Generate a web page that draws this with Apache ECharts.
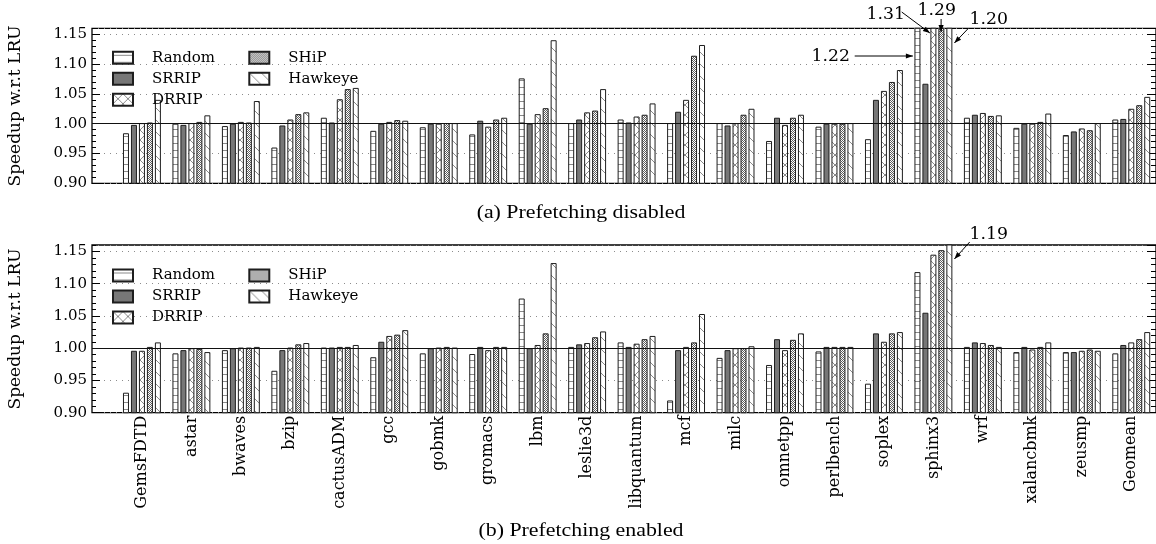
<!DOCTYPE html>
<html><head><meta charset="utf-8">
<script src="https://cdn.jsdelivr.net/npm/echarts@6/dist/echarts.min.js"></script>
<style>html,body{margin:0;padding:0;background:#fff}#c{width:1156px;height:544px}</style>
</head><body><div id="c"></div>
<script>
const categories = ['GemsFDTD','astar','bwaves','bzip','cactusADM','gcc','gobmk','gromacs','lbm','leslie3d','libquantum','mcf','milc','omnetpp','perlbench','soplex','sphinx3','wrf','xalancbmk','zeusmp','Geomean'];
const seriesNames = ['Random','SRRIP','DRRIP','SHiP','Hawkeye'];
const yTicks = ['0.90','0.95','1.00','1.05','1.10','1.15'];

// (a) Prefetching disabled
const randomA  = [0.984,1.000,0.996,0.960,1.010,0.988,0.994,0.982,1.076,1.001,1.007,1.001,1.001,0.971,0.995,0.974,1.22,1.010,0.993,0.981,1.007];
const srripA   = [0.998,0.998,1.000,0.997,1.002,1.000,1.000,1.005,1.000,1.007,1.002,1.020,0.997,1.010,1.000,1.040,1.067,1.015,1.000,0.987,1.008];
const drripA   = [1.001,1.001,1.003,1.007,1.041,1.003,1.000,0.995,1.016,1.019,1.012,1.040,1.001,0.998,1.000,1.055,1.31,1.018,1.000,0.992,1.025];
const shipA    = [1.002,1.003,1.002,1.016,1.058,1.006,1.001,1.007,1.026,1.022,1.015,1.114,1.015,1.010,1.000,1.070,1.29,1.013,1.003,0.989,1.031];
const hawkeyeA = [1.040,1.014,1.038,1.019,1.060,1.005,1.001,1.010,1.140,1.058,1.034,1.132,1.025,1.015,1.001,1.090,1.20,1.014,1.017,1.001,1.045];

// (b) Prefetching enabled
const randomB  = [0.931,0.992,0.997,0.965,1.001,0.986,0.992,0.991,1.077,1.002,1.009,0.919,0.985,0.974,0.995,0.945,1.118,1.002,0.994,0.994,0.992];
const srripB   = [0.996,0.997,1.000,0.997,1.001,1.010,1.000,1.002,1.000,1.006,1.002,0.997,0.997,1.014,1.002,1.023,1.055,1.009,1.002,0.994,1.005];
const drripB   = [0.996,1.000,1.001,1.001,1.002,1.019,1.001,0.997,1.005,1.008,1.007,1.002,1.000,0.997,1.002,1.010,1.145,1.008,0.998,0.996,1.009];
const shipB    = [1.002,0.999,1.001,1.006,1.002,1.021,1.002,1.002,1.023,1.017,1.014,1.009,1.000,1.013,1.002,1.023,1.152,1.005,1.002,0.998,1.014];
const hawkeyeB = [1.009,0.994,1.002,1.008,1.005,1.028,1.001,1.002,1.132,1.026,1.019,1.053,1.003,1.023,1.002,1.025,1.19,1.002,1.009,0.996,1.025];

const panelA = [randomA, srripA, drripA, shipA, hawkeyeA];
const panelB = [randomB, srripB, drripB, shipB, hawkeyeB];
// off-scale labels for sphinx3: [panel, seriesIndex, value]
const offScale = [[0,0,1.22],[0,2,1.31],[0,3,1.29],[0,4,1.20],[1,4,1.19]];

const SERIF = 'DejaVu Serif';
const HATCH = '#8a8a8a';
function tile(w, h, draw) {
  const c = document.createElement('canvas'); c.width = w; c.height = h;
  const g = c.getContext('2d'); g.fillStyle = '#fff'; g.fillRect(0, 0, w, h);
  draw(g); return { image: c, repeat: 'repeat' };
}
const fills = [
  tile(6, 7, g => { g.fillStyle = HATCH; g.fillRect(0, 3, 6, 1); }),
  '#777777',
  tile(10, 10, g => { g.strokeStyle = HATCH; g.lineWidth = 1; g.beginPath(); g.moveTo(0,0); g.lineTo(10,10); g.moveTo(10,0); g.lineTo(0,10); g.stroke(); }),
  tile(2, 2, g => { g.fillStyle = '#5e5e5e'; g.fillRect(0,0,1,1); g.fillRect(1,1,1,1); }),
  tile(12, 12, g => { g.strokeStyle = HATCH; g.lineWidth = 1; g.beginPath(); g.moveTo(0,0); g.lineTo(12,12); g.stroke(); })
];

const YMIN = 0.9, YMAX = 1.16;
const panels = [{ top: 28.3, height: 155 }, { top: 245, height: 167.7 }];

const grid = [], xAxis = [], yAxis = [], series = [], legend = [];
panels.forEach((p, k) => {
  grid.push({ left: 92, right: -1, top: p.top, height: p.height, show: true, borderColor: '#000', borderWidth: 1.3, backgroundColor: 'transparent' });
  grid.push({ left: 117.2, right: -4.3, top: p.top, height: p.height });
  xAxis.push({ gridIndex: 2*k, type: 'value', min: 0, max: 1, show: false });
  xAxis.push({ gridIndex: 2*k+1, type: 'category', data: categories,
    axisLine: { show: false }, axisTick: { show: false },
    axisLabel: { show: k === 1, rotate: 90, fontFamily: SERIF, fontSize: 16, color: '#000', margin: 3 } });
  const base = { gridIndex: 2*k, type: 'value', min: YMIN, max: YMAX, axisLine: { show: false } };
  yAxis.push(Object.assign({}, base, { position: 'left', interval: 0.05,
    axisTick: { inside: true, length: 8, lineStyle: { color: '#000', width: 1 } },
    axisLabel: { fontFamily: SERIF, fontSize: 15, color: '#000', margin: 5, showMaxLabel: false,
      formatter: v => { const s = v.toFixed(2); return yTicks.indexOf(s) >= 0 ? s : ''; } },
    splitLine: { show: true, lineStyle: { color: '#8c8c8c', type: [1, 5], width: 1 } } }));
  yAxis.push(Object.assign({}, base, { position: 'left', interval: 0.01,
    axisTick: { inside: true, length: 4, lineStyle: { color: '#000', width: 1 } },
    axisLabel: { show: false }, splitLine: { show: false } }));
  yAxis.push(Object.assign({}, base, { position: 'right', interval: 0.05,
    axisTick: { inside: true, length: 9, lineStyle: { color: '#000', width: 1 } },
    axisLabel: { show: false }, splitLine: { show: false } }));
  yAxis.push(Object.assign({}, base, { position: 'right', interval: 0.01,
    axisTick: { inside: true, length: 5, lineStyle: { color: '#000', width: 1 } },
    axisLabel: { show: false }, splitLine: { show: false } }));
  yAxis.push({ gridIndex: 2*k+1, type: 'value', min: YMIN, max: YMAX, show: false });
  const data = k === 0 ? panelA : panelB;
  seriesNames.forEach((n, i) => {
    series.push({ type: 'bar', name: n, xAxisIndex: 2*k+1, yAxisIndex: 5*k+4, data: data[i],
      barWidth: 6, barGap: '33%', clip: true,
      itemStyle: { color: fills[i], borderColor: '#1e1e1e', borderWidth: 1 },
      emphasis: { disabled: true } });
  });
  const legendTop = k === 0 ? 50.3 : 268;
  const lstyle = { orient: 'vertical', top: legendTop, padding: 0, itemGap: 6, itemWidth: 20, itemHeight: 12, icon: 'rect',
    selectedMode: false, textStyle: { fontFamily: SERIF, fontSize: 15, color: '#000', lineHeight: 14, padding: [0,0,0,14] } };
  legend.push(Object.assign({ left: 112, data: seriesNames.slice(0, 3) }, lstyle));
  legend.push(Object.assign({ left: 248.3, data: seriesNames.slice(3) }, lstyle));
});
panels.forEach((p, k) => {
  series.push({ type: 'line', xAxisIndex: 2*k, yAxisIndex: 5*k, data: [], z: 10, silent: true,
    markLine: { silent: true, symbol: 'none', label: { show: false }, animation: false,
      lineStyle: { color: '#111', type: 'solid', width: 1 }, emphasis: { disabled: true }, data: [{ yAxis: 1 }] } });
});

const chart = echarts.init(document.getElementById('c'), null, { renderer: 'canvas' });
chart.setOption({ animation: false, backgroundColor: '#fff', grid, xAxis, yAxis, series, legend });

// annotations for bars that run off the scale
const g = [];
function text(s, x, y, size, font, sx) {
  g.push({ type: 'text', x, y, scaleX: sx || 1, style: { text: s, font: size + 'px "' + font + '"', fill: '#000', align: 'center', verticalAlign: 'middle' }, z: 20 });
}
function arrow(x1, y1, x2, y2) {
  g.push({ type: 'line', shape: { x1, y1, x2, y2 }, style: { stroke: '#000', lineWidth: 1 }, z: 20 });
  const a = Math.atan2(y2 - y1, x2 - x1), L = 7, W = 2.6;
  const bx = x2 - L * Math.cos(a), by = y2 - L * Math.sin(a);
  g.push({ type: 'polygon', shape: { points: [[x2, y2], [bx - W * Math.sin(a), by + W * Math.cos(a)], [bx + W * Math.sin(a), by - W * Math.cos(a)]] }, style: { fill: '#000' }, z: 20 });
}
const topA = chart.convertToPixel({ seriesIndex: 0 }, ['sphinx3', YMAX]);
const topB = chart.convertToPixel({ seriesIndex: 5 }, ['sphinx3', YMAX]);
const fmt = v => v.toFixed(2);
{
  const cx = topA[0], t = topA[1];
  text(fmt(offScale[0][2]), cx - 102.7, t + 28.7, 16, SERIF, 1.08); arrow(cx - 78.7, t + 27.7, cx - 20.5, t + 27.7);
  text(fmt(offScale[1][2]), cx - 47.7, t - 13.3, 16, SERIF, 1.08); arrow(cx - 31.7, t - 16.3, cx - 3.5, t + 4.7);
  text(fmt(offScale[2][2]), cx + 3.3, t - 17.3, 16, SERIF, 1.08); arrow(cx + 7.7, t - 9.3, cx + 7.7, t + 3.7);
  text(fmt(offScale[3][2]), cx + 55.3, t - 8.3, 16, SERIF, 1.08); arrow(cx + 35.3, t - 0.3, cx + 21, t + 14.7);
}
{
  const cx = topB[0], t = topB[1];
  text(fmt(offScale[4][2]), cx + 55.3, t - 10, 16, SERIF, 1.08); arrow(cx + 36.3, t - 3, cx + 21, t + 14);
}
g.push({ type: 'text', x: 16, y: 106, rotation: Math.PI / 2, style: { text: 'Speedup w.r.t LRU', font: '17px "DejaVu Serif"', fill: '#000', align: 'center', verticalAlign: 'middle' } });
g.push({ type: 'text', x: 16, y: 329, rotation: Math.PI / 2, style: { text: 'Speedup w.r.t LRU', font: '17px "DejaVu Serif"', fill: '#000', align: 'center', verticalAlign: 'middle' } });
text('(a) Prefetching disabled', 581, 213, 19, 'Liberation Serif', 1.15);
text('(b) Prefetching enabled', 581, 531, 19, 'Liberation Serif', 1.15);
chart.setOption({ graphic: g });
</script></body></html>
